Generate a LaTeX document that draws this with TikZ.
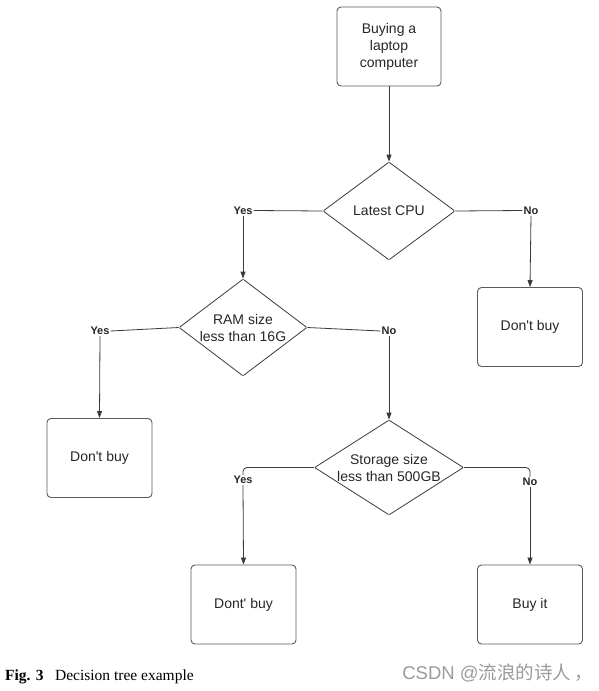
\documentclass[tikz,border=0pt]{standalone}
\usepackage{fontspec}
\setmainfont{Liberation Sans}[Ligatures=TeXOff]
\newfontfamily\capfont{Liberation Serif}
\newfontfamily\wmlatin{Liberation Sans}
\newfontfamily\cjkfont{Noto Sans CJK SC}
\usetikzlibrary{shapes.geometric,arrows.meta}
\definecolor{linec}{HTML}{3A3A3A}
\definecolor{boxc}{HTML}{5A5A5A}
\definecolor{txtc}{HTML}{262626}
\definecolor{wmc}{HTML}{9A9A9A}
\tikzset{
  box/.style={draw=boxc, line width=0.9pt, rounded corners=4pt, minimum width=105pt, minimum height=79pt, inner sep=0pt, align=center, text=txtc, font=\fontsize{14}{17}\selectfont},
  dia/.style={draw=linec, line width=0.8pt, shape=diamond, inner sep=0pt, rounded corners=1pt},
  dtxt/.style={align=center, text=txtc, font=\fontsize{14}{17}\selectfont, inner sep=0pt},
  lab/.style={font=\bfseries\fontsize{11}{13}\selectfont, text=txtc, inner sep=1pt},
  conn/.style={draw=linec, line width=0.8pt},
  arr/.style={conn, -{Triangle[length=7pt,width=5pt]}},
}
\begin{document}
\begin{tikzpicture}[x=1pt,y=-1pt]
\useasboundingbox (0,0) rectangle (599,691);
% boxes
\node[box, minimum width=104pt] (start) at (389,46.5) {Buying a\\laptop\\computer};
\node[box] (nb1) at (530,327) {Don't buy};
\node[box] (nb2) at (99.5,458) {Don't buy};
\node[box] (nb3) at (243.5,604.5) {Dont' buy};
\node[box] (buy) at (530,604.5) {Buy it};
% diamonds
\node[dia, minimum width=132pt, minimum height=98pt] (d1) at (389,211) {};
\node[dtxt] at (d1) {Latest CPU};
\node[dia, minimum width=128pt, minimum height=97pt] (d2) at (243,327.5) {};
\node[dtxt] at (d2) {RAM size\\less than 16G};
\node[dia, minimum width=149pt, minimum height=95pt] (d3) at (389,467.5) {};
\node[dtxt] at (d3) {Storage size\\less than 500GB};
% labels
\node[lab] (y1) at (243,210.5) {Yes};
\node[lab] (n1) at (531,210.5) {No};
\node[lab] (y2) at (100,331) {Yes};
\node[lab] (n2) at (389,331) {No};
\node[lab] (y3) at (243,480) {Yes};
\node[lab] (n3) at (530,482) {No};
% connectors
\draw[arr] (start) -- (d1.north);
\draw[conn] (d1.west) -- (y1.east);
\draw[arr] (y1.south) -- (d2.north);
\draw[conn] (d1.east) -- (n1.west);
\draw[arr] (n1.south) -- (nb1.north);
\draw[conn] (d2.west) -- (y2.east);
\draw[arr] (y2.south) -- (nb2.north);
\draw[conn] (d2.east) -- (n2.west);
\draw[arr] (n2.south) -- (d3.north);
\draw[conn, rounded corners=4pt] (d3.west) -| (y3.north);
\draw[arr] (y3.south) -- (nb3.north);
\draw[conn, rounded corners=4pt] (d3.east) -| (n3.north);
\draw[arr] (n3.south) -- (buy.north);
% caption
\node[anchor=base west, inner sep=0pt, font=\capfont\fontsize{15.5}{18}\selectfont] (cap) at (5,680) {\textbf{Fig. 3}\hspace{0.75em}Decision tree example};
\node[anchor=base east, inner sep=0pt, text=wmc, font=\fontsize{18.5}{21}\selectfont] (wm) at (593,679) {{\wmlatin CSDN @}{\cjkfont 流浪的诗人\,，}};
\end{tikzpicture}
\end{document}
